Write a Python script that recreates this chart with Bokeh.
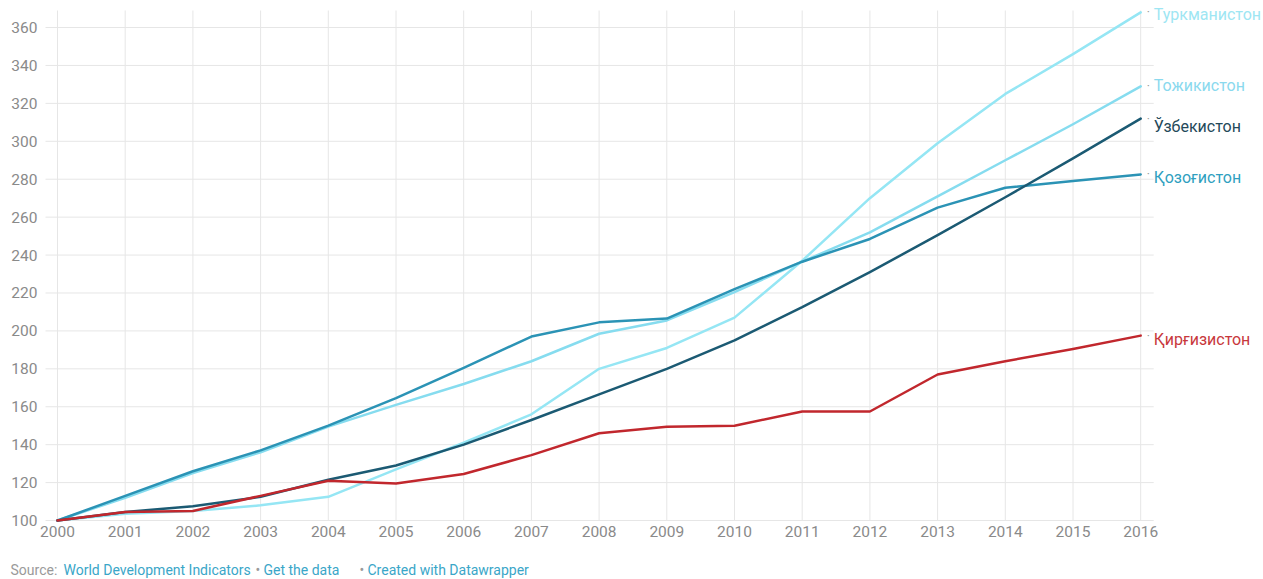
from bokeh.plotting import figure
from bokeh.models import Range1d, FixedTicker, Label
from bokeh.embed import file_html
from bokeh.resources import INLINE

years = list(range(2000, 2017))
turkmenistan = [100, 103.5, 105, 108, 112.5, 127, 141, 156, 180, 191, 207, 237, 270, 299, 325, 346, 368]
tajikistan = [100, 112, 125, 136, 149.5, 161, 172, 184, 198.5, 205.5, 220.5, 236.5, 252, 271, 290, 309, 329]
kazakhstan = [100, 113, 126, 137, 150, 164.5, 180.5, 197, 204.5, 206.5, 222, 236.5, 248.5, 265, 275.5, 279, 282.5]
uzbekistan = [100, 104.5, 107.5, 112.5, 121.5, 129, 140, 153, 166.5, 180, 195, 212.5, 231, 250.5, 270.5, 291, 312]
kyrgyzstan = [100, 104.5, 105, 113, 121, 119.5, 124.5, 134.5, 146, 149.5, 150, 157.5, 157.5, 177, 184, 190.5, 197.5]

names = ["Туркманистон", "Тожикистон", "Қозоғистон", "Ўзбекистон", "Қирғизистон"]
series = [turkmenistan, tajikistan, kazakhstan, uzbekistan, kyrgyzstan]
line_colors = ["#95e6f4", "#86dcef", "#2b93b5", "#1b5a73", "#c1272d"]
label_colors = ["#9ee6f3", "#8ad9ee", "#2f9fc0", "#24495a", "#c8383c"]
label_dy = [-2, 1, -3, -8, -4]

y_ticks = list(range(100, 361, 20))

footer_texts = ["Source:", "World Development Indicators", "•", "Get the data", "•",
                "Created with Datawrapper"]

FONT = "Roboto"
W, H = 1263, 579
PX_YEAR = 67.7
PX_UNIT = 1.896
X0_PX = 57      # px from left edge to first year
Y0_PX = 59      # px from bottom edge to value 100
x_start = years[0] - X0_PX / PX_YEAR
x_end = years[0] + (W - X0_PX) / PX_YEAR
y_start = y_ticks[0] - Y0_PX / PX_UNIT
y_end = y_ticks[0] + (H - Y0_PX) / PX_UNIT
grid_left = years[0] - 12 / PX_YEAR
grid_right = years[-1] + 13 / PX_YEAR
grid_top = y_ticks[0] + 510 / PX_UNIT

p = figure(width=W, height=H, output_backend="svg", toolbar_location=None,
           x_range=Range1d(x_start, x_end), y_range=Range1d(y_start, y_end),
           min_border=0, min_border_left=0, min_border_right=0,
           min_border_top=0, min_border_bottom=0)
p.title.visible = False
p.outline_line_color = None
p.background_fill_color = "white"
p.border_fill_color = "white"
p.xgrid.visible = False
p.ygrid.visible = False

# grid lines bounded to the plotting area
p.segment(x0=years, y0=[y_ticks[0]] * len(years), x1=years, y1=[grid_top] * len(years),
          line_color="#e6e6e6", line_width=1)
p.segment(x0=[grid_left] * len(y_ticks), y0=y_ticks, x1=[grid_right] * len(y_ticks), y1=y_ticks,
          line_color="#e6e6e6", line_width=1)

p.xaxis.fixed_location = y_ticks[0]
p.yaxis.fixed_location = grid_left
p.xaxis.ticker = FixedTicker(ticks=years)
p.yaxis.ticker = FixedTicker(ticks=y_ticks)
for ax in (p.xaxis, p.yaxis):
    ax.axis_line_color = None
    ax.major_tick_line_color = None
    ax.minor_tick_line_color = None
    ax.major_tick_out = 0
    ax.major_tick_in = 0
    ax.major_label_text_font = FONT
    ax.major_label_text_font_size = "15.5px"
    ax.major_label_text_color = "#8a8a8a"
p.xaxis.major_label_standoff = 5
p.yaxis.major_label_standoff = 8

for vals, col in zip(series, line_colors):
    p.line(years, vals, line_color=col, line_width=2.5, line_join="round", line_cap="round")

last_vals = [s[-1] for s in series]
for n, v, c, dy in zip(names, last_vals, label_colors, label_dy):
    p.add_layout(Label(x=years[-1], y=v, x_units="data", y_units="data", text=n,
                       x_offset=13, y_offset=dy,
                       text_font=FONT, text_font_size="16px", text_color=c,
                       text_baseline="middle", text_align="left"))
    p.add_layout(Label(x=years[-1], y=v, x_units="data", y_units="data", text="·",
                       x_offset=6, y_offset=0,
                       text_font=FONT, text_font_size="12px", text_color="#9a9a9a",
                       text_baseline="middle", text_align="left"))

footer_x = [10, 63, 255, 263, 359, 367]
footer_colors = ["#9a9a9a", "#3aa6c8", "#9a9a9a", "#3aa6c8", "#9a9a9a", "#3aa6c8"]
for txt, xs, col in zip(footer_texts, footer_x, footer_colors):
    p.add_layout(Label(x=xs, y=10, x_units="screen", y_units="screen", text=txt,
                       text_font=FONT, text_font_size="14px", text_color=col,
                       text_baseline="middle", text_align="left"))

open("out.html", "w").write(file_html(p, INLINE))
